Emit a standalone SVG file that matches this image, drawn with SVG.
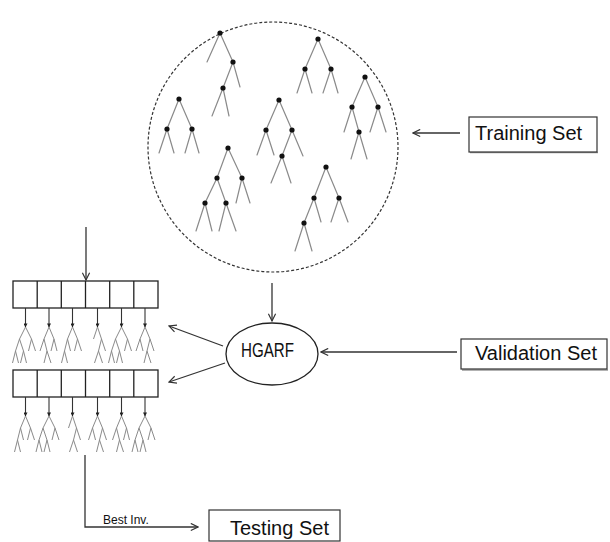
<svg xmlns="http://www.w3.org/2000/svg" xmlns:xlink="http://www.w3.org/1999/xlink" width="610" height="542" viewBox="0 0 610 542">
<style>
.br{stroke:#8a8a8a;stroke-width:1.2;fill:none;stroke-linecap:round}
.sb{stroke:#8a8a8a;stroke-width:1;fill:none}
.dot{fill:#111}
.box{fill:#fff;stroke:#333;stroke-width:1.2}
.shadow{fill:none;stroke:#999;stroke-width:1.5}
.lbl{font-family:"Liberation Sans",Arial,sans-serif;fill:#111}
.con{stroke:#333;stroke-width:1.3;fill:none}
.cell{fill:#fff;stroke:#222;stroke-width:1.3}
</style>
<defs>
<marker id="ah" viewBox="0 0 10 10" refX="9" refY="5" markerWidth="9" markerHeight="9" markerUnits="userSpaceOnUse" orient="auto">
<path d="M1,1 L9,5 L1,9" fill="none" stroke="#333" stroke-width="1.3"/>
</marker>
<marker id="sm" viewBox="0 0 10 10" refX="9" refY="5" markerWidth="4" markerHeight="4" markerUnits="userSpaceOnUse" orient="auto">
<path d="M0,0 L10,5 L0,10 Z" fill="#222"/>
</marker>
<g id="tA"><path class="sb" d="M0,0 L-6,12 M0,0 L6,12 M6,12 L3,24 M6,12 L10,24 M-6,12 L-10,24 M-6,12 L-2,24 M-10,24 L-13,36 M-10,24 L-7,36 M-2,24 L-5,36 M-2,24 L1,36"/></g>
<g id="tB"><path class="sb" d="M0,0 L-5,12 M0,0 L5,12 M-5,12 L-9,24 M-5,12 L-2,24 M5,12 L9,24 M5,12 L2,24 M2,24 L-1,36 M2,24 L6,36"/></g>
<g id="tC"><path class="sb" d="M0,0 L-4,12 M0,0 L4,12 M4,12 L8,24 M4,12 L1,24 M1,24 L-3,36 M1,24 L5,36"/></g>
<g id="tD"><path class="sb" d="M0,0 L-5,12 M0,0 L5,12 M5,12 L2,24 M5,12 L9,24 M-5,12 L-2,24 M-5,12 L-8,24 M-8,24 L-11,36 M-8,24 L-5,36"/></g>
<g id="tE"><path class="sb" d="M0,0 L-5,12 M0,0 L5,12 M5,12 L2,24 M5,12 L8,24 M-5,12 L-9,24 M-5,12 L-2,24 M-2,24 L-5,36 M-2,24 L2,36"/></g>
</defs>
<rect width="610" height="542" fill="#fff"/>

<g id="forest">
<circle cx="273" cy="147" r="125" fill="none" stroke="#333" stroke-width="1.2" stroke-dasharray="3,2"/>
<g id="treeA">
<path class="br" d="M220,33 L207,62 M220,33 L233,62 L240,87 M233,62 L223,88 L212,116 M223,88 L229,116"/>
<circle class="dot" cx="220" cy="33" r="2.6"/><circle class="dot" cx="233" cy="62" r="2.6"/><circle class="dot" cx="223" cy="88" r="2.6"/>
</g>
<g id="treeB">
<path class="br" d="M179,99 L167,129 L159,153 M167,129 L174,153 M179,99 L192,129 L185,153 M192,129 L199,153"/>
<circle class="dot" cx="179" cy="99" r="2.6"/><circle class="dot" cx="167" cy="129" r="2.6"/><circle class="dot" cx="192" cy="129" r="2.6"/>
</g>
<g id="treeC">
<path class="br" d="M279,100 L266,130 L257,155 M266,130 L274,155 M279,100 L292,130 L303,156 M292,130 L282,156 L271,183 M282,156 L291,183"/>
<circle class="dot" cx="279" cy="100" r="2.6"/><circle class="dot" cx="266" cy="130" r="2.6"/><circle class="dot" cx="292" cy="130" r="2.6"/><circle class="dot" cx="282" cy="156" r="2.6"/>
</g>
<g id="treeD">
<path class="br" d="M318,39 L305,69 L297,93 M305,69 L312,93 M318,39 L331,69 L323,93 M331,69 L338,93"/>
<circle class="dot" cx="318" cy="39" r="2.6"/><circle class="dot" cx="305" cy="69" r="2.6"/><circle class="dot" cx="331" cy="69" r="2.6"/>
</g>
<g id="treeE">
<path class="br" d="M365,77 L352,107 L344,132 M352,107 L359,132 L351,159 M359,132 L367,159 M365,77 L378,107 L370,132 M378,107 L386,132"/>
<circle class="dot" cx="365" cy="77" r="2.6"/><circle class="dot" cx="352" cy="107" r="2.6"/><circle class="dot" cx="378" cy="107" r="2.6"/><circle class="dot" cx="359" cy="132" r="2.6"/>
</g>
<g id="treeF">
<path class="br" d="M228,148 L217,178 L205,203 L196,231 M205,203 L212,231 M217,178 L226,203 L219,231 M226,203 L236,231 M228,148 L242,178 L236,203 M242,178 L250,203"/>
<circle class="dot" cx="228" cy="148" r="2.6"/><circle class="dot" cx="217" cy="178" r="2.6"/><circle class="dot" cx="242" cy="178" r="2.6"/><circle class="dot" cx="205" cy="203" r="2.6"/><circle class="dot" cx="226" cy="203" r="2.6"/>
</g>
<g id="treeG">
<path class="br" d="M326,167 L314,198 L304,223 L295,251 M304,223 L312,251 M314,198 L321,222 M326,167 L339,198 L331,222 M339,198 L348,222"/>
<circle class="dot" cx="326" cy="167" r="2.6"/><circle class="dot" cx="314" cy="198" r="2.6"/><circle class="dot" cx="339" cy="198" r="2.6"/><circle class="dot" cx="304" cy="223" r="2.6"/>
</g>
</g>

<g id="training-set">
<line class="shadow" x1="470" y1="152.5" x2="598" y2="152.5"/>
<rect class="box" x="469" y="117" width="128" height="35"/>
<text class="lbl" x="475" y="140" font-size="20">Training Set</text>
</g>

<g id="validation-set">
<line class="shadow" x1="462" y1="370" x2="608" y2="370"/>
<rect class="box" x="461" y="339" width="146" height="30"/>
<text class="lbl" x="475" y="360" font-size="20">Validation Set</text>
</g>

<g id="hgarf">
<ellipse cx="272" cy="354" rx="46" ry="31" fill="#fff" stroke="#222" stroke-width="1.3"/>
<text class="lbl" x="241" y="357" font-size="21" textLength="53" lengthAdjust="spacingAndGlyphs">HGARF</text>
</g>

<g id="testing-set">
<rect class="box" x="209" y="510" width="131" height="31"/>
<text class="lbl" x="230" y="535" font-size="20">Testing Set</text>
</g>

<g id="population-1">
<rect class="cell" x="13" y="281" width="145" height="27"/>
<path class="cell" d="M37.2,281 V308 M61.3,281 V308 M85.5,281 V308 M109.7,281 V308 M133.8,281 V308"/>
<g id="trees-1">
<use xlink:href="#tA" x="25.5" y="327"/>
<use xlink:href="#tE" x="49" y="327"/>
<use xlink:href="#tD" x="72.5" y="327"/>
<use xlink:href="#tC" x="97.5" y="327"/>
<use xlink:href="#tA" x="121.5" y="327"/>
<use xlink:href="#tB" x="145" y="327"/>
</g>
</g>

<g id="population-2">
<rect class="cell" x="13" y="370" width="145" height="27"/>
<path class="cell" d="M37.2,370 V397 M61.3,370 V397 M85.5,370 V397 M109.7,370 V397 M133.8,370 V397"/>
<g id="trees-2">
<use xlink:href="#tD" x="25.5" y="416"/>
<use xlink:href="#tA" x="49" y="416"/>
<use xlink:href="#tC" x="72.5" y="416"/>
<use xlink:href="#tB" x="97.5" y="416"/>
<use xlink:href="#tE" x="121.5" y="416"/>
<use xlink:href="#tA" x="145" y="416"/>
</g>
</g>

<g id="best-inv-label">
<text class="lbl" x="103" y="524" font-size="12">Best Inv.</text>
</g>

<g id="connectors">
<line class="con" x1="460" y1="133" x2="413" y2="133" marker-end="url(#ah)" stroke="#555"/>
<line class="con" x1="457" y1="352" x2="321" y2="352" marker-end="url(#ah)"/>
<line class="con" x1="272" y1="283" x2="272" y2="321" marker-end="url(#ah)"/>
<line class="con" x1="223" y1="346" x2="169" y2="326" marker-end="url(#ah)"/>
<line class="con" x1="225" y1="363" x2="169" y2="382" marker-end="url(#ah)"/>
<line class="con" x1="86" y1="227" x2="86" y2="280" marker-end="url(#ah)"/>
<polyline class="con" points="85,455 85,527 198,527" marker-end="url(#ah)"/>
<g stroke="#333" stroke-width="1.1">
<line x1="25.5" y1="308" x2="25.5" y2="327" marker-end="url(#sm)"/>
<line x1="49" y1="308" x2="49" y2="327" marker-end="url(#sm)"/>
<line x1="72.5" y1="308" x2="72.5" y2="327" marker-end="url(#sm)"/>
<line x1="97.5" y1="308" x2="97.5" y2="327" marker-end="url(#sm)"/>
<line x1="121.5" y1="308" x2="121.5" y2="327" marker-end="url(#sm)"/>
<line x1="145" y1="308" x2="145" y2="327" marker-end="url(#sm)"/>
<line x1="25.5" y1="397" x2="25.5" y2="416" marker-end="url(#sm)"/>
<line x1="49" y1="397" x2="49" y2="416" marker-end="url(#sm)"/>
<line x1="72.5" y1="397" x2="72.5" y2="416" marker-end="url(#sm)"/>
<line x1="97.5" y1="397" x2="97.5" y2="416" marker-end="url(#sm)"/>
<line x1="121.5" y1="397" x2="121.5" y2="416" marker-end="url(#sm)"/>
<line x1="145" y1="397" x2="145" y2="416" marker-end="url(#sm)"/>
</g>
</g>
</svg>
